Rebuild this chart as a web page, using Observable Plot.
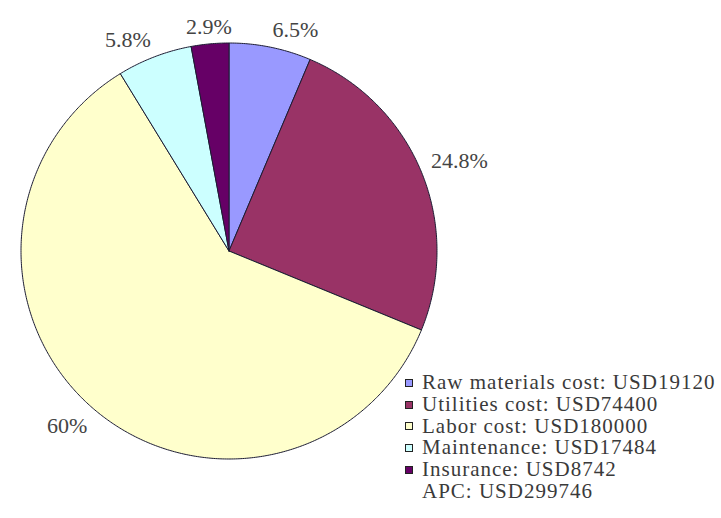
<!DOCTYPE html>
<html><head><meta charset="utf-8">
<script src="https://cdn.jsdelivr.net/npm/d3@7"></script>
<script src="https://cdn.jsdelivr.net/npm/@observablehq/plot@0.6"></script>
<style>
body{margin:0;background:#fff;}
#wrap{position:relative;width:721px;height:518px;overflow:hidden;}
#legend{position:absolute;left:405px;top:372px;font-family:"Liberation Serif","Times New Roman",serif;font-size:21px;letter-spacing:1px;color:#3a3a3a;line-height:21.8px;white-space:nowrap;}
.row{height:21.8px;line-height:21.8px;display:flex;align-items:center;}
.sw{display:inline-block;width:6px;height:6px;border:1px solid #222;margin-right:9px;flex:none;}
.nosw{display:inline-block;width:17px;flex:none;}
</style></head><body>
<div id="wrap"></div>
<script>
const categories = ["Raw materials cost", "Utilities cost", "Labor cost", "Maintenance", "Insurance"];
const costs = [19120, 74400, 180000, 17484, 8742];
const percentLabels = ["6.5%", "24.8%", "60%", "5.8%", "2.9%"];
const colors = ["#9999ff", "#993366", "#ffffcc", "#ccffff", "#660066"];
const totalLabel = "APC: USD299746";

const cx = 228.5, cy = 250.5, R = 208;
const serif = '"Liberation Serif","Times New Roman",serif';
const total = d3.sum(costs);
let acc = 0;
const slices = categories.map((c, i) => {
  const a0 = acc / total * 2 * Math.PI; acc += costs[i];
  const a1 = acc / total * 2 * Math.PI;
  return {category: c, a0, a1, label: percentLabels[i]};
});
const pts = [];
for (const s of slices) {
  pts.push({category: s.category, x: 0, y: 0});
  const n = Math.max(2, Math.ceil((s.a1 - s.a0) / (Math.PI / 360)));
  for (let k = 0; k <= n; k++) {
    const a = s.a0 + (s.a1 - s.a0) * k / n;
    pts.push({category: s.category, x: Math.sin(a), y: Math.cos(a)});
  }
  pts.push({category: s.category, x: 0, y: 0});
}
const labels = slices.map(s => {
  const m = (s.a0 + s.a1) / 2, sn = Math.sin(m), cs = Math.cos(m);
  return {label: s.label, x: 1.05 * sn, y: 1.05 * cs,
    ta: sn > 0.15 ? "start" : sn < -0.15 ? "end" : "middle",
    la: cs > 0 ? "bottom" : "top"};
});
const combos = d3.groups(labels, d => d.ta + "|" + d.la);
const textMarks = combos.map(([k, arr]) => Plot.text(arr, {
  x: "x", y: "y", text: "label",
  textAnchor: arr[0].ta, lineAnchor: arr[0].la,
  fontFamily: serif, fontSize: 22, fill: "#444"
}));

const chart = Plot.plot({
  width: 721, height: 518, margin: 0,
  style: {background: "white", fontFamily: serif},
  x: {domain: [-1, 1], range: [cx - R, cx + R], axis: null},
  y: {domain: [-1, 1], range: [cy + R, cy - R], axis: null},
  color: {domain: categories, range: colors},
  marks: [
    Plot.line(pts, {x: "x", y: "y", z: "category", fill: "category", stroke: "#1c1c33", strokeWidth: 1, curve: "linear"}),
    ...textMarks
  ]
});
const wrap = document.getElementById("wrap");
wrap.appendChild(chart);
const legend = document.createElement("div");
legend.id = "legend";
categories.forEach((c, i) => {
  const row = document.createElement("div"); row.className = "row";
  const sw = document.createElement("span"); sw.className = "sw"; sw.style.background = colors[i];
  row.appendChild(sw);
  row.appendChild(document.createTextNode(c + ": USD" + costs[i]));
  legend.appendChild(row);
});
const last = document.createElement("div"); last.className = "row";
const pad = document.createElement("span"); pad.className = "nosw"; last.appendChild(pad);
last.appendChild(document.createTextNode(totalLabel));
legend.appendChild(last);
wrap.appendChild(legend);
</script>
</body></html>
